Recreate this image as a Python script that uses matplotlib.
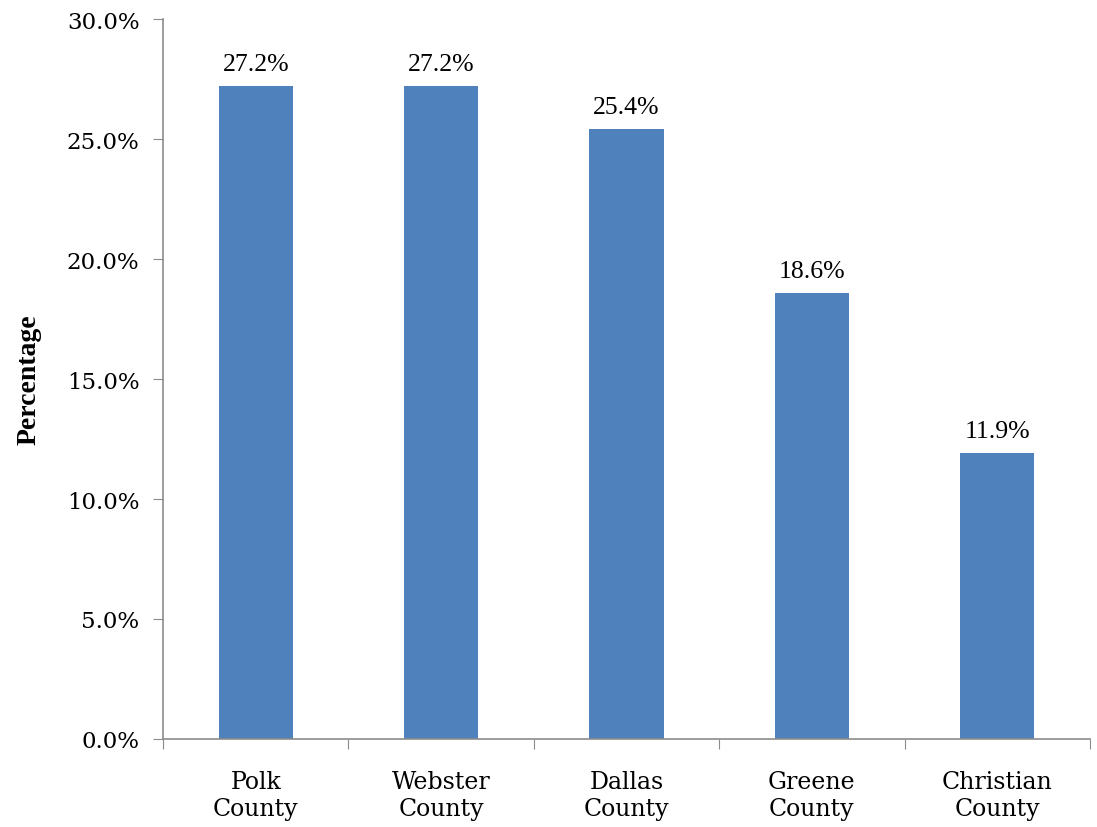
import matplotlib.pyplot as plt
import numpy as np
from matplotlib.ticker import FuncFormatter, MultipleLocator

counties = ["Polk\nCounty", "Webster\nCounty", "Dallas\nCounty", "Greene\nCounty", "Christian\nCounty"]
percentages = [27.2, 27.2, 25.4, 18.6, 11.9]

BAR_COLOUR = "#4F81BD"
AXIS_COLOUR = "#8C8C8C"

fig = plt.figure(figsize=(10.97, 8.28), dpi=100)
ax = fig.add_axes([0.1486, 0.1063, 0.845, 0.8695])

x = np.arange(len(counties))
bars = ax.bar(x, percentages, width=0.4, color=BAR_COLOUR, zorder=2)
ax.bar_label(bars, labels=[f"{v:.1f}%" for v in percentages], padding=8,
             fontsize=18.5, family="Liberation Serif")

ax.set_xlim(-0.5, len(counties) - 0.5)
ax.set_ylim(0, 30)
ax.yaxis.set_major_locator(MultipleLocator(5))
ax.yaxis.set_major_formatter(FuncFormatter(lambda v, _: f"{v:.1f}%"))

# category ticks sit on the boundaries between bars
ax.set_xticks(np.arange(-0.5, len(counties)), minor=False)
ax.set_xticklabels([])
ax.set_xticks(x, minor=True)
ax.set_xticklabels(counties, minor=True, fontsize=17, family="DejaVu Serif", linespacing=1.25)
ax.tick_params(axis="x", which="minor", length=0, pad=22)
ax.tick_params(axis="x", which="major", length=7, color=AXIS_COLOUR, direction="out")
ax.tick_params(axis="y", length=7, color=AXIS_COLOUR, labelsize=16.5, pad=10)
for lbl in ax.get_yticklabels():
    lbl.set_family("DejaVu Serif")

for side in ("top", "right"):
    ax.spines[side].set_visible(False)
for side in ("left", "bottom"):
    ax.spines[side].set_color(AXIS_COLOUR)
    ax.spines[side].set_linewidth(1.2)

ax.set_ylabel("Percentage", fontsize=20, fontweight="bold", family="Liberation Serif", labelpad=18)

fig.savefig("out.png", dpi=100)
